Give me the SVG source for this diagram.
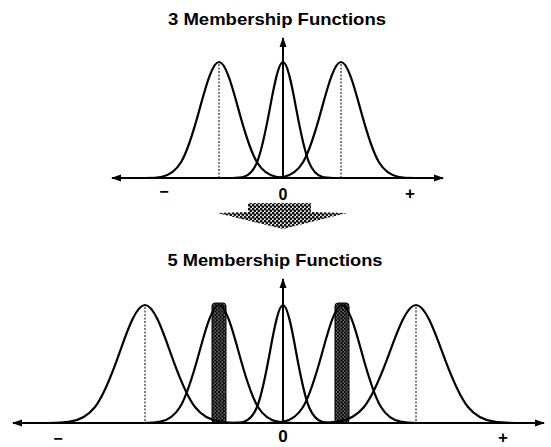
<svg xmlns="http://www.w3.org/2000/svg" width="551" height="447" viewBox="0 0 551 447">
<style>
.t{font-family:"Liberation Sans",Arial,sans-serif;font-weight:bold;fill:#000}
.curve{fill:none;stroke:#000;stroke-width:2.2;vector-effect:non-scaling-stroke}
.axis{fill:none;stroke:#000;stroke-width:2}
.dash{fill:none;stroke:#000;stroke-width:1;stroke-dasharray:2 1.5}
</style>
<defs>
<marker id="ah" viewBox="0 0 10 8" refX="9" refY="4" markerWidth="10" markerHeight="8" markerUnits="userSpaceOnUse" orient="auto">
<path d="M0,0.5 L10,4 L0,7.5 Z" fill="#000"/>
</marker>
<pattern id="dots" width="4" height="4" patternUnits="userSpaceOnUse">
<rect width="4" height="4" fill="#fff"/>
<circle cx="1" cy="1" r="1.5" fill="#111"/>
<circle cx="3" cy="3" r="1.5" fill="#111"/>
</pattern>
<pattern id="hatch" width="3.5" height="3.5" patternUnits="userSpaceOnUse">
<rect width="3.5" height="3.5" fill="#fff"/>
<circle cx="1.75" cy="1.75" r="1.3" fill="none" stroke="#000" stroke-width="1.3"/>
</pattern>
</defs>

<g id="top-title"><text class="t" x="277" y="25" font-size="17" text-anchor="middle" textLength="218" lengthAdjust="spacingAndGlyphs">3 Membership Functions</text></g>

<g id="top-curves">
<path class="curve" transform="translate(219,178) scale(19,-116)" d="M-4,0 C-3.667,0.0007 -3.333,0 -3,0.0111 C-2.667,0.0222 -2.333,0.0451 -2,0.1353 C-1.667,0.2255 -1.333,0.4043 -1,0.6065 C-0.667,0.8087 -0.333,1 0,1 C0.333,1 0.667,0.8087 1,0.6065 C1.333,0.4043 1.667,0.2255 2,0.1353 C2.333,0.0451 2.667,0.0222 3,0.0111 C3.333,0 3.667,0.0007 4,0"/>
<path class="curve" transform="translate(283,178) scale(13,-116)" d="M-4,0 C-3.667,0.0007 -3.333,0 -3,0.0111 C-2.667,0.0222 -2.333,0.0451 -2,0.1353 C-1.667,0.2255 -1.333,0.4043 -1,0.6065 C-0.667,0.8087 -0.333,1 0,1 C0.333,1 0.667,0.8087 1,0.6065 C1.333,0.4043 1.667,0.2255 2,0.1353 C2.333,0.0451 2.667,0.0222 3,0.0111 C3.333,0 3.667,0.0007 4,0"/>
<path class="curve" transform="translate(341,178) scale(19,-116)" d="M-4,0 C-3.667,0.0007 -3.333,0 -3,0.0111 C-2.667,0.0222 -2.333,0.0451 -2,0.1353 C-1.667,0.2255 -1.333,0.4043 -1,0.6065 C-0.667,0.8087 -0.333,1 0,1 C0.333,1 0.667,0.8087 1,0.6065 C1.333,0.4043 1.667,0.2255 2,0.1353 C2.333,0.0451 2.667,0.0222 3,0.0111 C3.333,0 3.667,0.0007 4,0"/>
<line class="dash" x1="219" y1="64" x2="219" y2="178"/>
<line class="dash" x1="341" y1="64" x2="341" y2="178"/>
</g>

<g id="top-axes">
<line class="axis" x1="283" y1="178" x2="283" y2="38" marker-end="url(#ah)"/>
<line class="axis" x1="283" y1="178" x2="112" y2="178" marker-end="url(#ah)"/>
<line class="axis" x1="283" y1="178" x2="443" y2="178" marker-end="url(#ah)"/>
</g>

<g id="top-labels">
<text class="t" x="164" y="197" font-size="16" text-anchor="middle">−</text>
<text class="t" x="283" y="200" font-size="16" text-anchor="middle">0</text>
<text class="t" x="410" y="199" font-size="17" text-anchor="middle">+</text>
</g>

<g id="transition-arrow">
<path d="M248,203 L311,203 L311,212 L347,213 L283,229 L217,213 L248,212 Z" fill="url(#dots)"/>
</g>

<g id="bottom-title"><text class="t" x="275" y="266" font-size="17" text-anchor="middle" textLength="215" lengthAdjust="spacingAndGlyphs">5 Membership Functions</text></g>

<g id="bottom-hatches">
<rect x="212" y="303" width="14" height="120" rx="3" fill="url(#hatch)" stroke="#000" stroke-width="1"/>
<rect x="335" y="303" width="14" height="120" rx="3" fill="url(#hatch)" stroke="#000" stroke-width="1"/>
</g>

<g id="bottom-curves">
<path class="curve" transform="translate(145,423) scale(25,-118)" d="M-4,0 C-3.667,0.0007 -3.333,0 -3,0.0111 C-2.667,0.0222 -2.333,0.0451 -2,0.1353 C-1.667,0.2255 -1.333,0.4043 -1,0.6065 C-0.667,0.8087 -0.333,1 0,1 C0.333,1 0.667,0.8087 1,0.6065 C1.333,0.4043 1.667,0.2255 2,0.1353 C2.333,0.0451 2.667,0.0222 3,0.0111 C3.333,0 3.667,0.0007 4,0"/>
<path class="curve" transform="translate(219,423) scale(19.5,-118)" d="M-4,0 C-3.667,0.0007 -3.333,0 -3,0.0111 C-2.667,0.0222 -2.333,0.0451 -2,0.1353 C-1.667,0.2255 -1.333,0.4043 -1,0.6065 C-0.667,0.8087 -0.333,1 0,1 C0.333,1 0.667,0.8087 1,0.6065 C1.333,0.4043 1.667,0.2255 2,0.1353 C2.333,0.0451 2.667,0.0222 3,0.0111 C3.333,0 3.667,0.0007 4,0"/>
<path class="curve" transform="translate(283,423) scale(13,-118)" d="M-4,0 C-3.667,0.0007 -3.333,0 -3,0.0111 C-2.667,0.0222 -2.333,0.0451 -2,0.1353 C-1.667,0.2255 -1.333,0.4043 -1,0.6065 C-0.667,0.8087 -0.333,1 0,1 C0.333,1 0.667,0.8087 1,0.6065 C1.333,0.4043 1.667,0.2255 2,0.1353 C2.333,0.0451 2.667,0.0222 3,0.0111 C3.333,0 3.667,0.0007 4,0"/>
<path class="curve" transform="translate(342,423) scale(19.5,-118)" d="M-4,0 C-3.667,0.0007 -3.333,0 -3,0.0111 C-2.667,0.0222 -2.333,0.0451 -2,0.1353 C-1.667,0.2255 -1.333,0.4043 -1,0.6065 C-0.667,0.8087 -0.333,1 0,1 C0.333,1 0.667,0.8087 1,0.6065 C1.333,0.4043 1.667,0.2255 2,0.1353 C2.333,0.0451 2.667,0.0222 3,0.0111 C3.333,0 3.667,0.0007 4,0"/>
<path class="curve" transform="translate(416,423) scale(26,-118)" d="M-4,0 C-3.667,0.0007 -3.333,0 -3,0.0111 C-2.667,0.0222 -2.333,0.0451 -2,0.1353 C-1.667,0.2255 -1.333,0.4043 -1,0.6065 C-0.667,0.8087 -0.333,1 0,1 C0.333,1 0.667,0.8087 1,0.6065 C1.333,0.4043 1.667,0.2255 2,0.1353 C2.333,0.0451 2.667,0.0222 3,0.0111 C3.333,0 3.667,0.0007 4,0"/>
<line class="dash" x1="145" y1="307" x2="145" y2="423"/>
<line class="dash" x1="416" y1="307" x2="416" y2="423"/>
</g>

<g id="bottom-axes">
<line class="axis" x1="283" y1="423" x2="283" y2="279" marker-end="url(#ah)"/>
<line class="axis" x1="283" y1="423" x2="13" y2="423" marker-end="url(#ah)"/>
<line class="axis" x1="283" y1="423" x2="544" y2="423" marker-end="url(#ah)"/>
</g>

<g id="bottom-labels">
<text class="t" x="58" y="444" font-size="16" text-anchor="middle">−</text>
<text class="t" x="283" y="442" font-size="17" text-anchor="middle">0</text>
<text class="t" x="503" y="443" font-size="17" text-anchor="middle">+</text>
</g>
</svg>
